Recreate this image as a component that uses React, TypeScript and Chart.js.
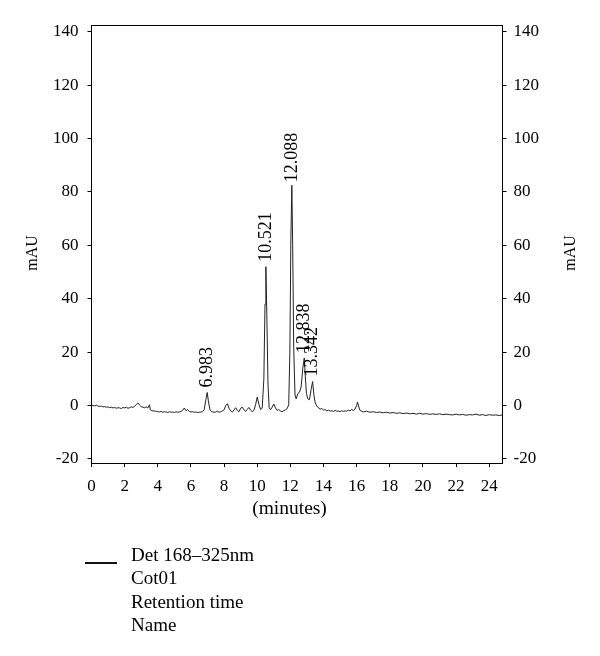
import React, { useEffect, useRef } from "react";
import { Chart, registerables } from "chart.js";

Chart.register(...registerables);

// Retention time (minutes)
const timeMin: number[] = [
  0.0, 0.1, 0.2, 0.3, 0.4, 0.5, 0.6, 0.7, 0.8, 0.9,
  1.0, 1.1, 1.2, 1.3, 1.4, 1.5, 1.6, 1.7, 1.8, 1.9,
  2.0, 2.1, 2.2, 2.3, 2.4, 2.5, 2.6, 2.7, 2.8, 2.9,
  3.0, 3.1, 3.2, 3.3, 3.4, 3.5, 3.55, 3.6, 3.7, 3.8, 3.9,
  4.0, 4.1, 4.2, 4.3, 4.4, 4.5, 4.6, 4.7, 4.8, 4.9,
  5.0, 5.1, 5.2, 5.3, 5.4, 5.5, 5.6, 5.7, 5.8, 5.9,
  6.0, 6.1, 6.2, 6.3, 6.4, 6.5, 6.6, 6.7, 6.8, 6.9,
  6.983, 7.05, 7.15, 7.25, 7.4, 7.5, 7.6, 7.7, 7.8, 7.9,
  8.0, 8.1, 8.2, 8.3, 8.4, 8.5, 8.6, 8.7, 8.8, 8.9,
  9.0, 9.1, 9.2, 9.3, 9.4, 9.5, 9.6, 9.7, 9.8, 9.9,
  10.0, 10.1, 10.2, 10.3, 10.4, 10.47, 10.521, 10.58, 10.65, 10.72,
  10.8, 10.9, 11.0, 11.1, 11.2, 11.3, 11.4, 11.5, 11.6, 11.7,
  11.8, 11.9, 11.97, 12.03, 12.088, 12.14, 12.2, 12.28, 12.35, 12.45,
  12.55, 12.65, 12.75, 12.838, 12.9, 12.97, 13.05, 13.15, 13.25, 13.342,
  13.42, 13.5, 13.6, 13.7, 13.8, 13.9, 14.0, 14.1, 14.2, 14.3,
  14.4, 14.5, 14.6, 14.7, 14.8, 14.9, 15.0, 15.1, 15.2, 15.3,
  15.4, 15.5, 15.6, 15.7, 15.8, 15.9, 16.0, 16.05, 16.1, 16.2, 16.3,
  16.4, 16.6, 16.8, 17.0, 17.2, 17.4, 17.6, 17.8, 18.0, 18.2,
  18.4, 18.6, 18.8, 19.0, 19.2, 19.4, 19.6, 19.8, 20.0, 20.2,
  20.4, 20.6, 20.8, 21.0, 21.2, 21.4, 21.6, 21.8, 22.0, 22.2,
  22.4, 22.6, 22.8, 23.0, 23.2, 23.4, 23.6, 23.8, 24.0, 24.2,
  24.4, 24.6, 24.8,
];

// Detector signal (mAU)
const absMAU: number[] = [
  0.2, 0.0, -0.1, 0.1, -0.2, -0.3, -0.2, -0.5, -0.4, -0.6,
  -0.5, -0.8, -0.6, -0.9, -0.7, -1.0, -0.8, -0.9, -1.1, -0.7,
  -0.9, -0.6, -1.0, -0.8, -0.5, -0.7, -0.3, 0.4, 1.0, 0.2,
  -0.4, -0.6, -0.8, -0.5, -0.9, 0.3, -1.6, -1.8, -2.0, -2.0, -2.2,
  -2.2, -2.4, -2.2, -2.5, -2.3, -2.4, -2.6, -2.3, -2.5, -2.4,
  -2.6, -2.3, -2.5, -2.4, -2.2, -1.8, -0.9, -1.9, -1.5, -2.2,
  -2.4, -2.3, -2.5, -2.4, -2.6, -2.5, -2.4, -2.3, -1.5, 2.2,
  4.9, 1.8, -1.6, -2.3, -2.5, -2.4, -2.1, -2.5, -2.3, -2.0,
  -1.6, 0.0, 0.7, -1.0, -2.0, -2.4, -1.6, -0.8, -1.8, -2.3,
  -1.0, -0.6, -1.6, -2.2, -1.4, -0.7, -1.7, -2.3, -1.8, 0.3,
  3.2, 0.5, -1.5, -1.0, 10.0, 38.0, 52.0, 34.0, 8.0, -0.8,
  -1.6, -0.6, 0.6, -0.9, -1.8, -1.5, -2.0, -2.3, -1.9, -1.6,
  -1.2, 0.3, 20.0, 62.0, 82.5, 60.0, 22.0, 4.0, 2.5, 4.5,
  5.0, 7.0, 14.0, 17.8, 11.0, 4.5, 2.5, 2.2, 6.0, 9.0,
  4.0, 1.0, -0.2, -0.9, -1.3, -1.1, -1.7, -1.5, -2.0, -1.7,
  -2.1, -1.9, -2.2, -1.8, -2.1, -2.0, -2.3, -1.9, -2.2, -2.0,
  -2.1, -1.7, -2.0, -1.4, -1.9, -1.3, 0.0, 1.3, 0.2, -1.8, -2.1,
  -2.4, -2.1, -2.5, -2.3, -2.6, -2.4, -2.7, -2.5, -2.8, -2.6,
  -2.9, -2.7, -3.0, -2.8, -3.1, -2.9, -3.2, -2.9, -3.2, -3.0,
  -3.3, -3.1, -3.3, -3.1, -3.4, -3.2, -3.4, -3.5, -3.2, -3.5,
  -3.3, -3.6, -3.4, -3.5, -3.2, -3.6, -3.4, -3.7, -3.4, -3.6,
  -3.5, -3.7, -3.5,
];

const peakTimes: number[] = [6.983, 10.521, 12.088, 12.838, 13.342];
const peakLabels: string[] = ["6.983", "10.521", "12.088", "12.838", "13.342"];
const legendLines: string[] = ["Det 168\u2013325nm", "Cot01", "Retention time", "Name"];
const yAxisTitle = "mAU";
const xAxisTitle = "(minutes)";

const FONT = '"Liberation Serif", "Times New Roman", serif';
const labelGapPx = [5, 5, 3, 5, 5];

const decorPlugin = {
  id: "decor",
  afterDraw(chart: any) {
    const { ctx, chartArea: a, scales } = chart;
    ctx.save();
    // top frame
    ctx.strokeStyle = "#000";
    ctx.lineWidth = 1;
    ctx.beginPath();
    ctx.moveTo(a.left, Math.round(a.top) + 0.5);
    ctx.lineTo(a.right, Math.round(a.top) + 0.5);
    ctx.stroke();

    ctx.fillStyle = "#000";
    // peak labels
    ctx.font = `18px ${FONT}`;
    peakTimes.forEach((t, i) => {
      const idx = timeMin.indexOf(t);
      const x = scales.x.getPixelForValue(t);
      const y = scales.y.getPixelForValue(absMAU[idx]);
      ctx.save();
      ctx.translate(x, y - labelGapPx[i]);
      ctx.rotate(-Math.PI / 2);
      ctx.textAlign = "left";
      ctx.textBaseline = "middle";
      ctx.fillText(peakLabels[i], 0, 0);
      ctx.restore();
    });

    // y titles
    ctx.font = `16px ${FONT}`;
    const yMid = 253;
    [33, 571].forEach((x) => {
      ctx.save();
      ctx.translate(x, yMid);
      ctx.rotate(-Math.PI / 2);
      ctx.textAlign = "center";
      ctx.textBaseline = "middle";
      ctx.fillText(yAxisTitle, 0, 0);
      ctx.restore();
    });

    // x title
    ctx.font = `19.5px ${FONT}`;
    ctx.textAlign = "center";
    ctx.textBaseline = "middle";
    ctx.fillText(xAxisTitle, 289.5, 509);

    // legend
    ctx.strokeStyle = "#111";
    ctx.lineWidth = 2;
    ctx.beginPath();
    ctx.moveTo(85, 563);
    ctx.lineTo(117, 563);
    ctx.stroke();
    ctx.font = `19px ${FONT}`;
    ctx.textAlign = "left";
    ctx.textBaseline = "alphabetic";
    legendLines.forEach((s, i) => {
      ctx.fillText(s, 131, 561 + i * 23.3);
    });
    ctx.restore();
  },
};

export default function App() {
  const ref = useRef<HTMLCanvasElement | null>(null);

  useEffect(() => {
    if (!ref.current) return;
    const tickFont = { family: FONT, size: 17, lineHeight: 1.2 };
    const grid = {
      display: true,
      drawOnChartArea: false,
      drawTicks: true,
      tickLength: 4,
      color: "#000",
      lineWidth: 1,
    };
    const border = { display: true, color: "#000", width: 1 };
    const chart = new Chart(ref.current, {
      type: "line",
      data: {
        datasets: [
          {
            label: legendLines[0],
            data: timeMin.map((t, i) => ({ x: t, y: absMAU[i] })),
            borderColor: "#222",
            borderWidth: 1,
            pointRadius: 0,
            tension: 0,
            fill: false,
          },
        ],
      },
      options: {
        animation: false,
        responsive: false,
        devicePixelRatio: 1,
        layout: { padding: { top: 25, bottom: 163, left: 0, right: 0 } },
        plugins: {
          legend: { display: false },
          tooltip: { enabled: false },
        },
        scales: {
          x: {
            type: "linear",
            position: "bottom",
            min: 0,
            max: 24.8,
            grid,
            border,
            ticks: {
              stepSize: 2,
              includeBounds: false,
              font: tickFont,
              color: "#000",
              padding: 9,
              maxRotation: 0,
            },
            afterFit: (s: any) => {
              s.height = 30;
            },
          },
          y: {
            type: "linear",
            position: "left",
            min: -21.5,
            max: 142.5,
            grid,
            border,
            ticks: {
              stepSize: 20,
              includeBounds: false,
              font: tickFont,
              color: "#000",
              padding: 9,
            },
            afterFit: (s: any) => {
              s.width = 91.5;
            },
          },
          y2: {
            type: "linear",
            position: "right",
            min: -21.5,
            max: 142.5,
            grid,
            border,
            ticks: {
              stepSize: 20,
              includeBounds: false,
              font: tickFont,
              color: "#000",
              padding: 7,
            },
            afterFit: (s: any) => {
              s.width = 97.5;
            },
          },
        },
      } as any,
      plugins: [decorPlugin],
    });
    return () => chart.destroy();
  }, []);

  return (
    <div style={{ position: "absolute", left: 0, top: 0, width: 600, height: 656, background: "#fff" }}>
      <canvas ref={ref} width={600} height={656} style={{ width: 600, height: 656, display: "block" }} />
    </div>
  );
}
